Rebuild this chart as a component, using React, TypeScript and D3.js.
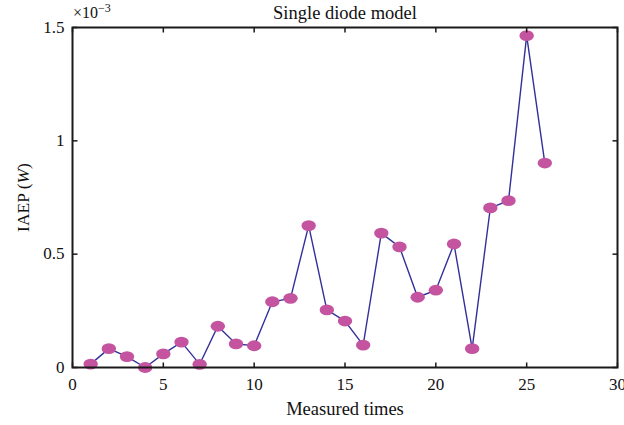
import React from "react";
import * as d3 from "d3";

const times = [1,2,3,4,5,6,7,8,9,10,11,12,13,14,15,16,17,18,19,20,21,22,23,24,25,26];
const iaep = [0.015,0.083,0.048,0.0,0.060,0.112,0.014,0.182,0.104,0.096,0.290,0.305,0.626,0.254,0.205,0.099,0.593,0.532,0.310,0.341,0.545,0.083,0.704,0.736,1.464,0.902];
const xTicks = [0,5,10,15,20,25,30];
const yTicks = [0,0.5,1,1.5];
const yTickLabels = ["0","0.5","1","1.5"];

const W = 624, H = 425;
const L = 72.5, R = 617.5, T = 27.5, B = 367.5;
const font = "'Liberation Serif', 'DejaVu Serif', serif";

export default function App() {
  const x = d3.scaleLinear().domain([0, 30]).range([L, R]);
  const y = d3.scaleLinear().domain([0, 1.5]).range([B, T]);
  const pts = times.map((t, i) => [t, iaep[i]] as [number, number]);
  const line = d3.line<[number, number]>().x(d => x(d[0])).y(d => y(d[1]));
  return (
    <svg width={W} height={H} style={{ position: "absolute", left: 0, top: 0, background: "#fff" }} fontFamily={font}>
      <rect x={0} y={0} width={W} height={H} fill="#fff" />
      <path d={line(pts) || ""} fill="none" stroke="#33309a" strokeWidth={1.4} />
      {pts.map((d, i) => (
        <ellipse key={i} cx={x(d[0])} cy={y(d[1])} rx={7.2} ry={5.4} fill="#c453a0" />
      ))}
      {/* frame */}
      <rect x={L} y={T} width={R - L} height={B - T} fill="none" stroke="#1a1a1a" strokeWidth={2} />
      {xTicks.map((t, i) => (
        <g key={"x" + i}>
          <line x1={x(t)} x2={x(t)} y1={B} y2={B - 5} stroke="#1a1a1a" strokeWidth={1.5} />
          <line x1={x(t)} x2={x(t)} y1={T} y2={T + 5} stroke="#1a1a1a" strokeWidth={1.5} />
          <text x={x(t)} y={390} fontSize={17} textAnchor="middle" fill="#111">{t}</text>
        </g>
      ))}
      {yTicks.map((t, i) => (
        <g key={"y" + i}>
          <line x1={L} x2={L + 5} y1={y(t)} y2={y(t)} stroke="#1a1a1a" strokeWidth={1.5} />
          <line x1={R} x2={R - 5} y1={y(t)} y2={y(t)} stroke="#1a1a1a" strokeWidth={1.5} />
          <text x={L - 8} y={y(t) + 5} fontSize={17} textAnchor="end" fill="#111">{yTickLabels[i]}</text>
        </g>
      ))}
      <text x={73} y={18} fontSize={16} fill="#111">×10<tspan dy={-6} fontSize={12}>−3</tspan></text>
      <text x={(L + R) / 2} y={19} fontSize={18.5} textAnchor="middle" fill="#111">Single diode model</text>
      <text x={(L + R) / 2} y={415} fontSize={18.5} textAnchor="middle" fill="#111">Measured times</text>
      <text transform={`translate(29, ${(T + B) / 2}) rotate(-90)`} fontSize={17.5} textAnchor="middle" fill="#111">
        IAEP (<tspan fontStyle="italic">W</tspan>)
      </text>
    </svg>
  );
}
